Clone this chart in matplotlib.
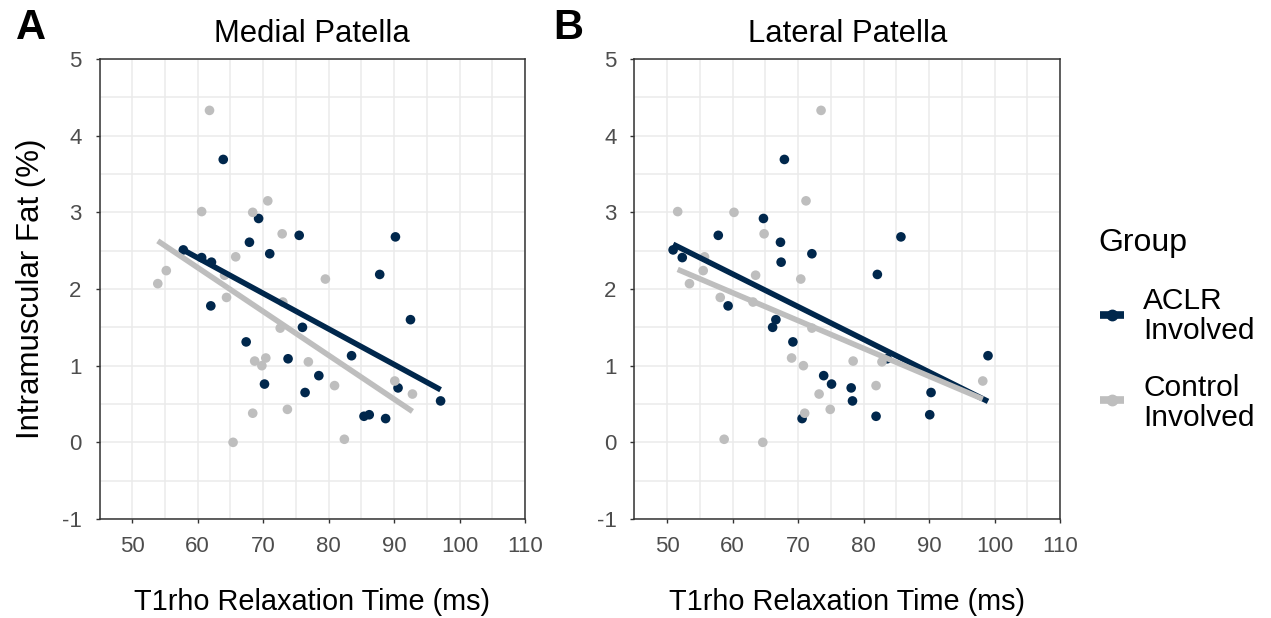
import numpy as np
import matplotlib
matplotlib.use("Agg")
import matplotlib.pyplot as plt
from matplotlib.lines import Line2D
from matplotlib.ticker import MultipleLocator

plt.rcParams["font.family"] = ["Liberation Sans", "DejaVu Sans"]
plt.rcParams["axes.unicode_minus"] = False

# intramuscular fat (%) per subject, shared by both panels
aclr_fat = [3.69, 2.92, 2.70, 2.61, 2.46, 2.51, 2.41, 2.35, 1.78, 1.50, 1.31, 1.09,
            0.76, 0.65, 0.87, 1.60, 1.13, 0.71, 0.54, 0.34, 0.36, 0.31, 2.68, 2.19]
aclr_medial = [63.9, 69.3, 75.5, 67.9, 71.0, 57.8, 60.6, 62.1, 62.0, 76.0, 67.4, 73.8,
               70.2, 76.4, 78.5, 92.5, 83.5, 90.6, 97.1, 85.4, 86.2, 88.7, 90.2, 87.8]
aclr_lateral = [67.9, 64.7, 57.8, 67.3, 72.1, 50.9, 52.3, 67.4, 59.3, 66.1, 69.2, 83.6,
                75.1, 90.3, 73.9, 66.6, 99.0, 78.1, 78.3, 81.9, 90.1, 70.6, 85.7, 82.1]

ctrl_fat = [4.33, 3.01, 3.00, 3.15, 2.72, 2.42, 2.24, 2.07, 1.89, 2.18, 1.83, 1.49,
            1.06, 1.10, 1.00, 1.05, 0.38, 0.43, 0.00, 0.74, 0.80, 0.63, 0.04, 2.13]
ctrl_medial = [61.8, 60.6, 68.4, 70.7, 72.9, 65.8, 55.2, 53.9, 64.4, 64.1, 73.0, 72.6,
               68.7, 70.4, 69.8, 76.9, 68.4, 73.7, 65.4, 80.9, 90.1, 92.8, 82.4, 79.5]
ctrl_lateral = [73.5, 51.6, 60.2, 71.2, 64.8, 55.7, 55.5, 53.4, 58.1, 63.5, 63.1, 72.1,
                78.4, 69.0, 70.8, 82.8, 71.0, 74.9, 64.6, 81.9, 98.2, 73.2, 58.7, 70.4]

groups = ["ACLR\nInvolved", "Control\nInvolved"]
panel_titles = ["Medial Patella", "Lateral Patella"]
panel_tags = ["A", "B"]

NAVY = "#00274c"
GRAY = "#bebebe"
GRID = "#ebebeb"
BORDER = "#333333"
LW = 4.0

fig = plt.figure(figsize=(12.71, 6.18), dpi=100)
ax_l = fig.add_axes([0.0783, 0.1602, 0.3348, 0.7443])
ax_r = fig.add_axes([0.4992, 0.1602, 0.3348, 0.7443])

panels = [
    (ax_l, aclr_medial, ctrl_medial),
    (ax_r, aclr_lateral, ctrl_lateral),
]


def fit_line(ax, x, y, color):
    x = np.asarray(x)
    slope, icpt = np.polyfit(x, np.asarray(y), 1)
    xs = np.array([x.min(), x.max()])
    ax.plot(xs, icpt + slope * xs, color=color, lw=LW,
            solid_capstyle="butt", zorder=4)


for i, (ax, x_aclr, x_ctrl) in enumerate(panels):
    ax.scatter(x_aclr, aclr_fat, s=48, color=NAVY, edgecolors="none", zorder=3)
    ax.scatter(x_ctrl, ctrl_fat, s=48, color=GRAY, edgecolors="none", zorder=3)
    fit_line(ax, x_aclr, aclr_fat, NAVY)
    fit_line(ax, x_ctrl, ctrl_fat, GRAY)

    ax.set_xlim(45, 110)
    ax.set_ylim(-1, 5)
    ax.xaxis.set_major_locator(MultipleLocator(10))
    ax.xaxis.set_minor_locator(MultipleLocator(5))
    ax.yaxis.set_major_locator(MultipleLocator(1))
    ax.yaxis.set_minor_locator(MultipleLocator(0.5))
    ax.grid(True, which="both", color=GRID, lw=1.1, zorder=0)
    ax.set_axisbelow(True)
    ax.tick_params(which="major", length=3, width=1.0, color=BORDER,
                   labelsize=16, labelcolor="#4d4d4d")
    ax.tick_params(axis="x", pad=9.5)
    ax.tick_params(axis="y", pad=10)
    ax.tick_params(which="minor", length=0)
    for sp in ax.spines.values():
        sp.set_color(BORDER)
        sp.set_linewidth(1.1)

    ax.set_xlabel("T1rho Relaxation Time (ms)", fontsize=20.8)
    ax.xaxis.set_label_coords(0.5, -0.151)
    ax.set_title(panel_titles[i], fontsize=22.3, pad=12)

ax_l.set_ylabel("Intramuscular Fat (%)", fontsize=22.5)
ax_l.yaxis.set_label_coords(-0.125, 0.5)

fig.text(0.0244, 0.955, panel_tags[0], fontsize=30, fontweight="bold",
         ha="center", va="center")
fig.text(0.447, 0.955, panel_tags[1], fontsize=30, fontweight="bold",
         ha="center", va="center")

# legend drawn by hand so the key/label spacing follows the layout
fig.text(0.8639, 0.607, "Group", fontsize=23, ha="left", va="center")
key_x = [0.8655, 0.8843]
for label, color, y_key, y_txt in [(groups[0], NAVY, 0.4903, 0.4887),
                                   (groups[1], GRAY, 0.3528, 0.3479)]:
    fig.add_artist(Line2D(key_x, [y_key, y_key], color=color, lw=5.5,
                          solid_capstyle="butt", transform=fig.transFigure))
    fig.add_artist(Line2D([sum(key_x) / 2], [y_key], color=color, marker="o",
                          markersize=7.5, transform=fig.transFigure))
    fig.text(0.8993, y_txt, label, fontsize=21.5, ha="left", va="center",
             linespacing=1.1)

fig.savefig("out.png", dpi=100)
